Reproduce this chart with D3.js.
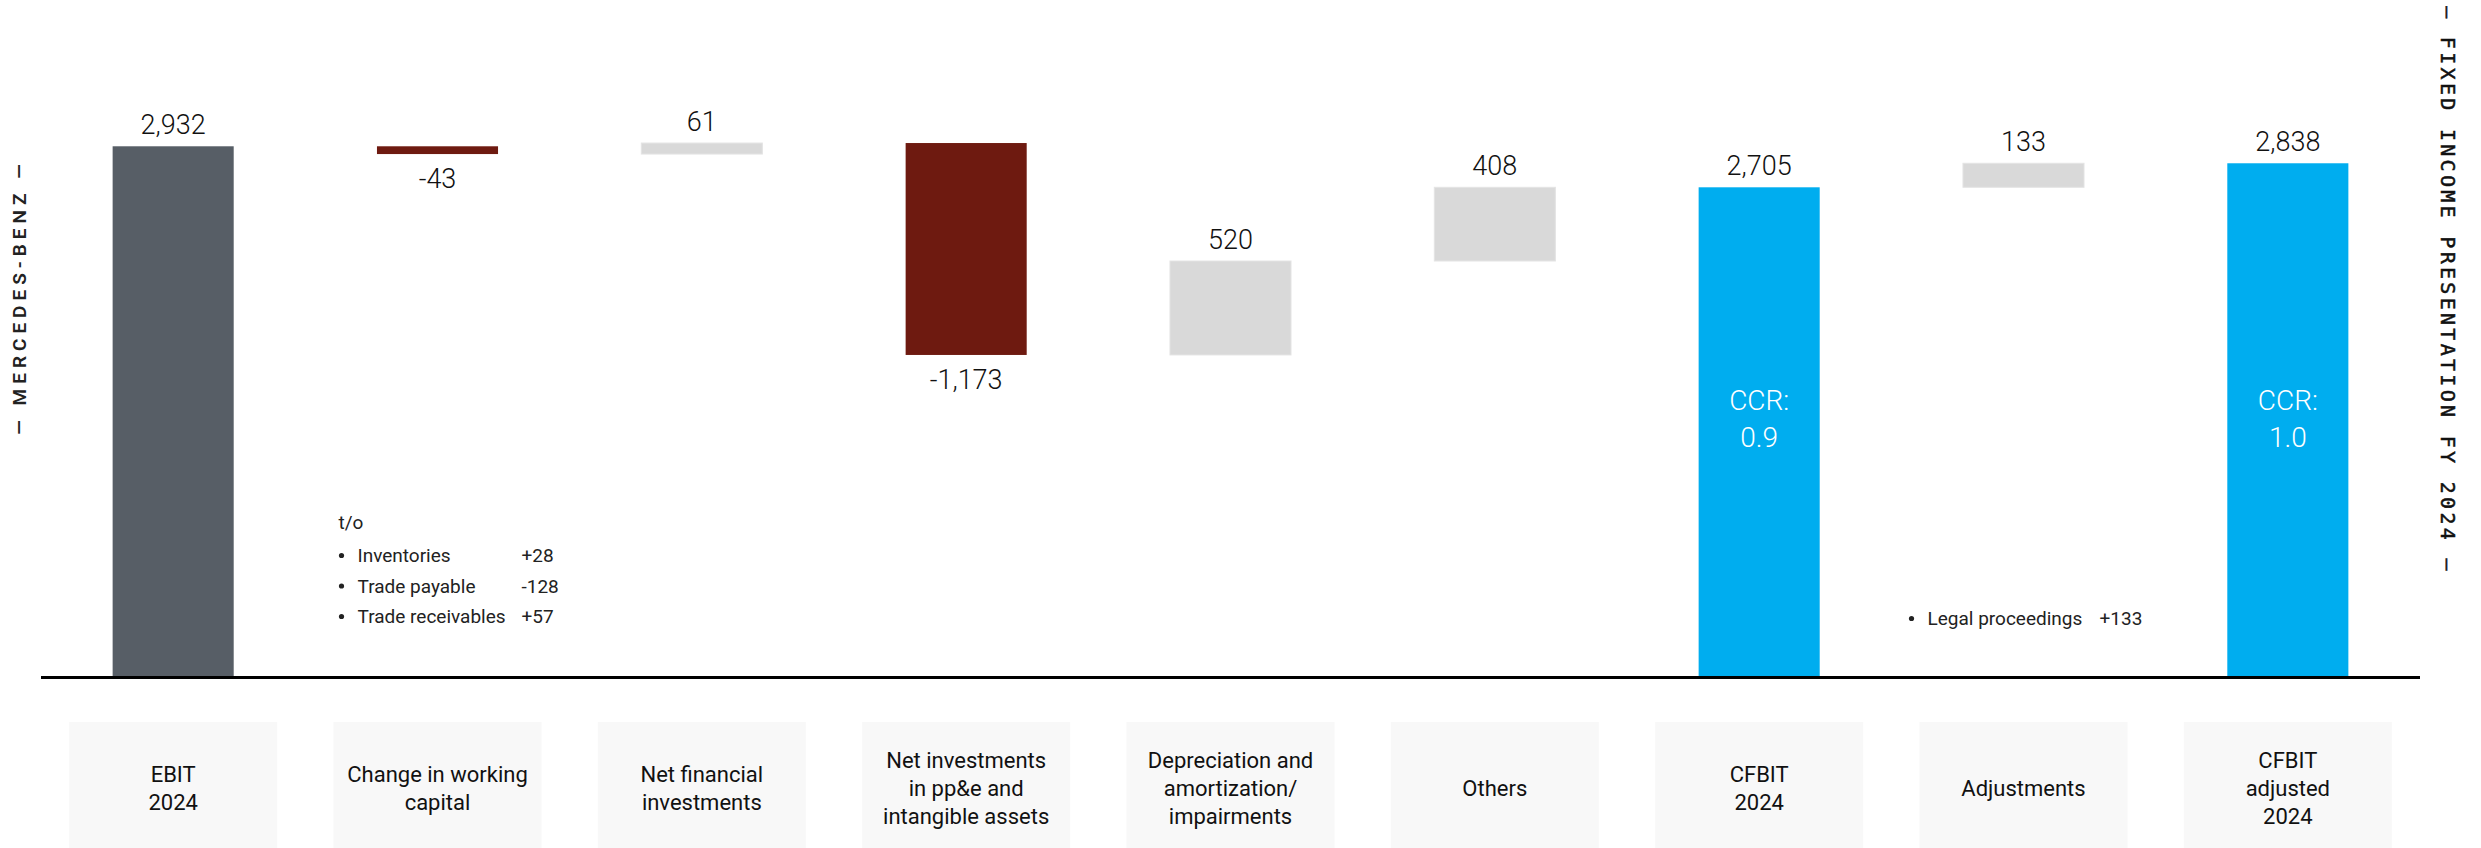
<!DOCTYPE html>
<html>
<head>
<meta charset="utf-8">
<script src="https://cdn.jsdelivr.net/npm/d3@7/dist/d3.min.js"></script>
<style>
  html, body { margin: 0; padding: 0; background: #ffffff; }
  svg { display: block; }
</style>
</head>
<body>
<script>
// Cash flow bridge: EBIT 2024 to CFBIT adjusted 2024 (EUR million)
const categories = [
  ["EBIT", "2024"],
  ["Change in working", "capital"],
  ["Net financial", "investments"],
  ["Net investments", "in pp&e and", "intangible assets"],
  ["Depreciation and", "amortization/", "impairments"],
  ["Others"],
  ["CFBIT", "2024"],
  ["Adjustments"],
  ["CFBIT", "adjusted", "2024"]
];
const values = [2932, -43, 61, -1173, 520, 408, 2705, 133, 2838];
const barTypes = ["start", "delta", "delta", "delta", "delta", "delta", "total", "delta", "total"];

// Cash conversion rate shown inside the CFBIT bars
const ccrIndex = [6, 8];
const ccrValues = ["0.9", "1.0"];

// Breakdown notes
const wcItems = ["Inventories", "Trade payable", "Trade receivables"];
const wcValues = ["+28", "-128", "+57"];
const adjItems = ["Legal proceedings"];
const adjValues = ["+133"];

const W = 2481, H = 848;
const COLORS = { start: "#575e66", total: "#00adef", up: "#d9d9d9", down: "#6e1a10" };
const SANS = "Roboto, 'Noto Sans', 'Liberation Sans', sans-serif";

const svg = d3.select("body").append("svg")
  .attr("width", W).attr("height", H)
  .attr("viewBox", [0, 0, W, H]);

const x = d3.scaleBand()
  .domain(d3.range(categories.length))
  .range([41, 2420])
  .paddingInner(0.542)
  .paddingOuter(0.271);

const y = d3.scaleLinear().domain([0, 3000]).range([676, 134]);

const fmt = d3.formatLocale({ decimal: ".", thousands: ",", grouping: [3], currency: ["", ""], minus: "-" }).format(",");

// Running totals for the waterfall
let running = 0;
const bars = values.map((v, i) => {
  let y0, y1;
  if (barTypes[i] === "delta") { y0 = running; y1 = running + v; running = y1; }
  else { y0 = 0; y1 = v; running = v; }
  const color = barTypes[i] === "start" ? COLORS.start
              : barTypes[i] === "total" ? COLORS.total
              : (v < 0 ? COLORS.down : COLORS.up);
  return { i, v, y0, y1, color, type: barTypes[i] };
});

// Category boxes
const step = x.step();
const boxW = step * 0.787;
svg.append("g").selectAll("rect")
  .data(categories)
  .join("rect")
  .attr("x", (d, i) => x(i) + x.bandwidth() / 2 - boxW / 2)
  .attr("y", 722)
  .attr("width", boxW)
  .attr("height", H - 722)
  .attr("fill", "#f8f8f8");

svg.append("g").selectAll("text")
  .data(categories)
  .join("text")
  .attr("text-anchor", "middle")
  .attr("font-family", SANS)
  .attr("font-size", 22)
  .attr("fill", "#111")
  .each(function (lines, i) {
    const cx = x(i) + x.bandwidth() / 2;
    const n = lines.length;
    d3.select(this).selectAll("tspan")
      .data(lines)
      .join("tspan")
      .attr("x", cx)
      .attr("y", (l, k) => 796 + (k - (n - 1) / 2) * 28)
      .text(l => l);
  });

// Bars
svg.append("g").selectAll("rect")
  .data(bars)
  .join("rect")
  .attr("x", d => x(d.i))
  .attr("width", x.bandwidth())
  .attr("y", d => y(Math.max(d.y0, d.y1)))
  .attr("height", d => Math.abs(y(d.y0) - y(d.y1)))
  .attr("fill", d => d.color)
  .attr("stroke", d => d.color === COLORS.up ? "#e4e4e4" : "none")
  .attr("stroke-width", 1);

// Baseline
svg.append("line")
  .attr("x1", x.range()[0]).attr("x2", x.range()[1])
  .attr("y1", y(0) + 1.5).attr("y2", y(0) + 1.5)
  .attr("stroke", "#000").attr("stroke-width", 3);

// Value labels: above rising bars, below falling ones
svg.append("g").selectAll("text")
  .data(bars)
  .join("text")
  .attr("x", d => x(d.i) + x.bandwidth() / 2)
  .attr("y", d => d.v < 0 ? y(Math.min(d.y0, d.y1)) + 34 : y(Math.max(d.y0, d.y1)) - 12)
  .attr("text-anchor", "middle")
  .attr("font-family", SANS)
  .attr("font-weight", 300)
  .attr("font-size", 27)
  .attr("fill", "#111")
  .text(d => fmt(d.v));

// CCR labels
const ccr = svg.append("g").selectAll("text")
  .data(ccrIndex.map((idx, k) => ({ idx, val: ccrValues[k] })))
  .join("text")
  .attr("text-anchor", "middle")
  .attr("font-family", SANS)
  .attr("font-weight", 300)
  .attr("font-size", 28)
  .attr("fill", "#ffffff");
ccr.append("tspan")
  .attr("x", d => x(d.idx) + x.bandwidth() / 2)
  .attr("y", y(1475))
  .text("CCR:");
ccr.append("tspan")
  .attr("x", d => x(d.idx) + x.bandwidth() / 2)
  .attr("y", y(1475) + 37)
  .text(d => d.val);

// Breakdown notes
function notes(left, baseY, header, items, vals, valueOffset) {
  const grp = svg.append("g")
    .attr("font-family", SANS)
    .attr("font-size", 19)
    .attr("fill", "#222");
  let yy = baseY;
  if (header) {
    grp.append("text").attr("x", left).attr("y", yy).text(header);
    yy += 33;
  }
  items.forEach((it, k) => {
    const by = yy + k * 30.5;
    grp.append("circle").attr("cx", left + 3).attr("cy", by - 6.5).attr("r", 2.6).attr("fill", "#222");
    grp.append("text").attr("x", left + 19).attr("y", by).text(it);
    grp.append("text").attr("x", left + valueOffset).attr("y", by).text(vals[k]);
  });
}
const c1 = x(1) + x.bandwidth() / 2;
notes(c1 - 99, 529, "t/o", wcItems, wcValues, 183);
const c7 = x(7) + x.bandwidth() / 2;
notes(c7 - 115, 625, null, adjItems, adjValues, 191);

// Side captions
svg.append("text")
  .attr("transform", "translate(19,297) rotate(-90)")
  .attr("text-anchor", "middle")
  .attr("dominant-baseline", "central")
  .attr("font-family", SANS)
  .attr("font-weight", 600)
  .attr("font-size", 19)
  .attr("letter-spacing", 5)
  .attr("fill", "#222")
  .text("— MERCEDES-BENZ —");

svg.append("text")
  .attr("transform", "translate(2448,290) rotate(90)")
  .attr("text-anchor", "middle")
  .attr("dominant-baseline", "central")
  .attr("font-family", "'DejaVu Sans Mono', 'Liberation Mono', monospace")
  .attr("font-size", 20)
  .attr("letter-spacing", 3.3)
  .attr("fill", "#111")
  .attr("stroke", "#111")
  .attr("stroke-width", 0.5)
  .text("— FIXED INCOME PRESENTATION FY 2024 —");
</script>
</body>
</html>
